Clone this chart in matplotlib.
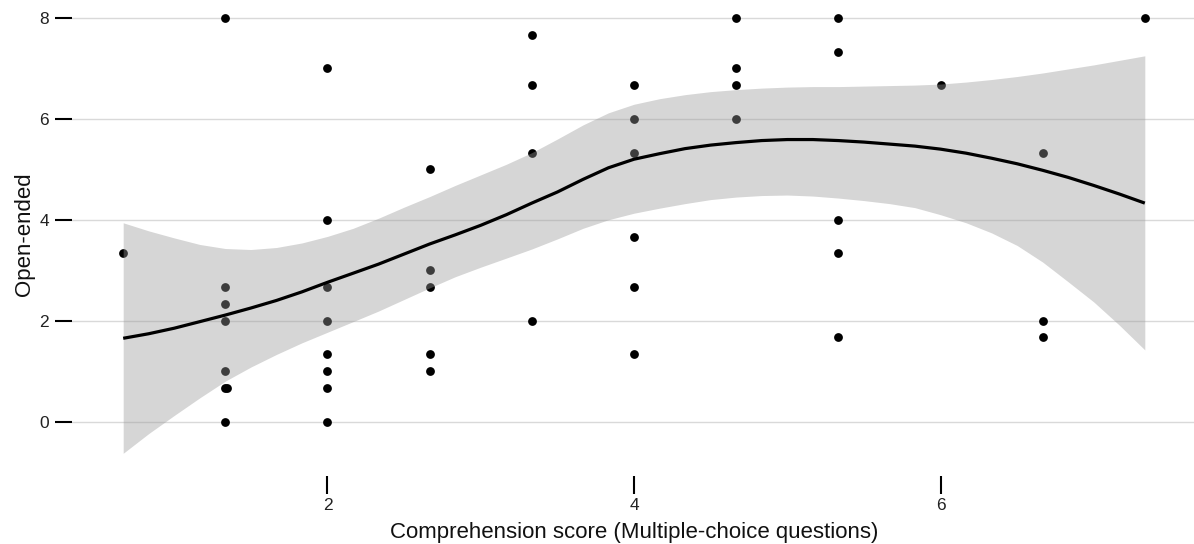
import matplotlib
matplotlib.use("Agg")
import matplotlib.pyplot as plt

plt.rcParams['font.family'] = ['Liberation Sans', 'DejaVu Sans']

# Scatter data
pt_x = [0.667,
        1.333, 1.333, 1.333, 1.333, 1.333, 1.333, 1.345, 1.333,
        2.0, 2.0, 2.0, 2.0, 2.0, 2.0, 2.0, 2.0,
        2.667, 2.667, 2.667, 2.667, 2.667,
        3.333, 3.333, 3.333, 3.333,
        4.0, 4.0, 4.0, 4.0, 4.0, 4.0,
        4.667, 4.667, 4.667, 4.667,
        5.333, 5.333, 5.333, 5.333, 5.333,
        6.0,
        6.667, 6.667, 6.667,
        7.333]
pt_y = [3.333,
        8.0, 2.667, 2.333, 2.0, 1.0, 0.667, 0.667, 0.0,
        7.0, 4.0, 2.667, 2.0, 1.333, 1.0, 0.667, 0.0,
        5.0, 3.0, 2.667, 1.333, 1.0,
        7.667, 6.667, 5.333, 2.0,
        6.667, 6.0, 5.333, 3.667, 2.667, 1.333,
        8.0, 7.0, 6.667, 6.0,
        8.0, 7.333, 4.0, 3.333, 1.667,
        6.667,
        5.333, 2.0, 1.667,
        8.0]

# Smoothed fit and its confidence band
fit_x = [0.667, 0.833, 1.0, 1.167, 1.333, 1.5, 1.667, 1.833, 2.0, 2.167,
         2.333, 2.5, 2.667, 2.833, 3.0, 3.167, 3.333, 3.5, 3.667, 3.833,
         4.0, 4.167, 4.333, 4.5, 4.667, 4.833, 5.0, 5.167, 5.333, 5.5,
         5.667, 5.833, 6.0, 6.167, 6.333, 6.5, 6.667, 6.833, 7.0, 7.167,
         7.333]
fit_y = [1.65, 1.74, 1.85, 1.98, 2.11, 2.25, 2.40, 2.57, 2.76, 2.94,
         3.12, 3.32, 3.52, 3.70, 3.89, 4.10, 4.33, 4.55, 4.80, 5.03,
         5.20, 5.31, 5.41, 5.48, 5.53, 5.57, 5.59, 5.59, 5.57, 5.54,
         5.50, 5.46, 5.40, 5.32, 5.22, 5.11, 4.98, 4.84, 4.68, 4.51,
         4.33]
fit_hi = [3.94, 3.78, 3.64, 3.51, 3.43, 3.41, 3.45, 3.54, 3.67, 3.83,
          4.03, 4.25, 4.46, 4.68, 4.89, 5.10, 5.33, 5.60, 5.88, 6.12,
          6.29, 6.40, 6.48, 6.54, 6.58, 6.61, 6.63, 6.64, 6.64, 6.65,
          6.66, 6.67, 6.69, 6.73, 6.78, 6.84, 6.91, 6.99, 7.07, 7.16,
          7.25]
fit_lo = [-0.63, -0.24, 0.12, 0.47, 0.80, 1.08, 1.33, 1.56, 1.77, 1.98,
          2.19, 2.42, 2.65, 2.87, 3.06, 3.24, 3.42, 3.62, 3.83, 4.00,
          4.13, 4.23, 4.32, 4.40, 4.45, 4.48, 4.49, 4.47, 4.43, 4.38,
          4.32, 4.24, 4.10, 3.94, 3.74, 3.49, 3.16, 2.77, 2.37, 1.91,
          1.42]

x_ticks = [2, 4, 6]
y_ticks = [0, 2, 4, 6, 8]

W, H = 1194, 544
fig = plt.figure(figsize=(W / 100, H / 100), dpi=100)
# axes in pixel terms: left 72, right 1196, top -3.7, bottom 476
ax = fig.add_axes([72 / W, (H - 476) / H, 1124 / W, 479.7 / H])

ax.scatter(pt_x, pt_y, s=40, color='black', linewidths=0, zorder=2)
ax.fill_between(fit_x, fit_lo, fit_hi, color='#999999', alpha=0.4,
                linewidth=0, zorder=3)
ax.plot(fit_x, fit_y, color='black', linewidth=2.3, zorder=4,
        solid_capstyle='butt', solid_joinstyle='round')

ax.set_xlim(0.333, 7.667)
ax.set_ylim(-1.08, 8.43)
ax.set_xticks(x_ticks)
ax.set_yticks(y_ticks)
ax.set_xticklabels([str(v) for v in x_ticks])
ax.set_yticklabels([str(v) for v in y_ticks])

for s in ax.spines.values():
    s.set_visible(False)
ax.yaxis.grid(True, color='#d9d9d9', linewidth=1.0, zorder=0)
ax.xaxis.grid(False)
ax.set_axisbelow(True)

ax.tick_params(axis='y', length=12.5, width=1.5, color='black', pad=4,
               labelsize=12.5, labelcolor='#222222')
ax.tick_params(axis='x', length=13, width=1.5, color='black', pad=3,
               labelsize=12.5, labelcolor='#222222')

fig.text(634 / W, (H - 538) / H,
         'Comprehension score (Multiple-choice questions)',
         fontsize=16, color='#111111', ha='center', va='baseline')
fig.text(30 / W, (H - 234) / H, 'Open-ended', fontsize=16, color='#111111',
         rotation=90, rotation_mode='anchor', ha='center', va='baseline')

fig.savefig('out.png', dpi=100)
